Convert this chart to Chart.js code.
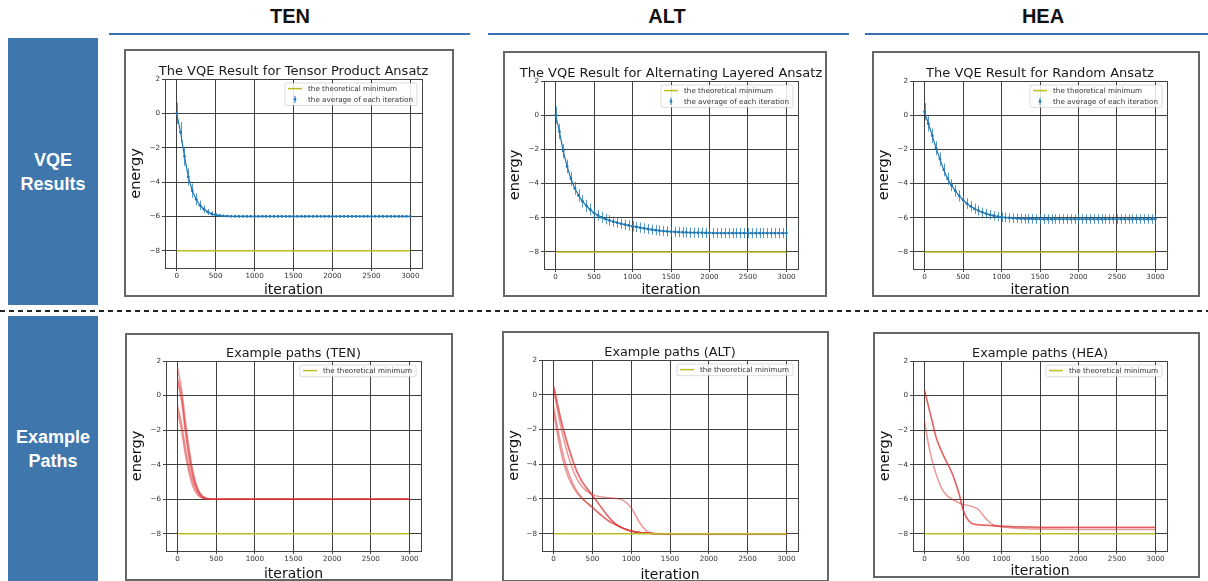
<!DOCTYPE html>
<html>
<head>
<meta charset="utf-8">
<script src="https://cdn.jsdelivr.net/npm/chart.js@4.4.1/dist/chart.umd.min.js"></script>
<style>
  body { margin: 0; background: #fff; width: 1208px; height: 581px; overflow: hidden; position: relative;
         font-family: 'Liberation Sans', Arial, sans-serif; }
  .hdr { position: absolute; top: 5px; width: 200px; text-align: center; font-weight: bold; font-size: 20px; color: #111; }
  .uline { position: absolute; top: 33px; height: 2px; background: #3b6fb6; }
  .side { position: absolute; left: 8px; width: 90px; background: #3f77ac; color: #fff; font-weight: bold;
          font-size: 18px; line-height: 24px; display: flex; align-items: center; justify-content: center; text-align: center; }
  .dash { position: absolute; left: 0; top: 310px; width: 1208px; height: 2px;
          background: repeating-linear-gradient(to right, #222 0 5px, transparent 5px 9px); }
  .frame { position: absolute; border: 2px solid #666; box-sizing: border-box; background: #fff; }
  canvas { display: block; }
</style>
</head>
<body>
<div class="hdr" style="left:190px">TEN</div>
<div class="hdr" style="left:567px">ALT</div>
<div class="hdr" style="left:943px">HEA</div>
<div class="uline" style="left:109px;width:361px"></div>
<div class="uline" style="left:488px;width:361px"></div>
<div class="uline" style="left:865px;width:343px"></div>
<div class="side" style="top:38px;height:267px">VQE<br>Results</div>
<div class="side" style="top:316px;height:265px">Example<br>Paths</div>
<div class="dash"></div>

<script>
// ---- data ----
const xTicks = [0, 500, 1000, 1500, 2000, 2500, 3000];
const yTicks = [-8, -6, -4, -2, 0, 2];
const theoryMin = -8;

// iterations where the averaged energy (with error bar) was plotted
const meanIters = [0, 50, 100, 150, 200, 250, 300, 350, 400, 450, 500, 550, 600, 650, 700, 750, 800, 850, 900, 950,
  1000, 1050, 1100, 1150, 1200, 1250, 1300, 1350, 1400, 1450, 1500, 1550, 1600, 1650, 1700, 1750, 1800, 1850, 1900, 1950,
  2000, 2050, 2100, 2150, 2200, 2250, 2300, 2350, 2400, 2450, 2500, 2550, 2600, 2650, 2700, 2750, 2800, 2850, 2900, 2950, 3000];

const tenMean = [0.00, -1.10, -2.50, -3.70, -4.50, -5.00, -5.35, -5.58, -5.74, -5.85, -5.91, -5.95, -5.97, -5.98, -5.99,
  -6.00, -6.00, -6.00, -6.00, -6.00, -6.00, -6.00, -6.00, -6.00, -6.00, -6.00, -6.00, -6.00, -6.00, -6.00, -6.00,
  -6.00, -6.00, -6.00, -6.00, -6.00, -6.00, -6.00, -6.00, -6.00, -6.00, -6.00, -6.00, -6.00, -6.00, -6.00, -6.00,
  -6.00, -6.00, -6.00, -6.00, -6.00, -6.00, -6.00, -6.00, -6.00, -6.00, -6.00, -6.00, -6.00, -6.00];
const tenErr = [0.62, 0.60, 0.55, 0.50, 0.42, 0.35, 0.28, 0.22, 0.17, 0.13, 0.10, 0.08, 0.06, 0.05, 0.05,
  0.04, 0.04, 0.04, 0.04, 0.04, 0.04, 0.04, 0.04, 0.04, 0.04, 0.04, 0.04, 0.04, 0.04, 0.04, 0.04,
  0.04, 0.04, 0.04, 0.04, 0.04, 0.04, 0.04, 0.04, 0.04, 0.04, 0.04, 0.04, 0.04, 0.04, 0.04, 0.04,
  0.04, 0.04, 0.04, 0.04, 0.04, 0.04, 0.04, 0.04, 0.04, 0.04, 0.04, 0.04, 0.04, 0.04];

const altMean = [0.00, -0.95, -2.10, -3.00, -3.72, -4.28, -4.70, -5.03, -5.30, -5.52, -5.72, -5.86, -5.98, -6.08, -6.16,
  -6.23, -6.29, -6.35, -6.40, -6.45, -6.50, -6.54, -6.58, -6.62, -6.66, -6.70, -6.73, -6.76, -6.78, -6.80, -6.82,
  -6.83, -6.84, -6.85, -6.86, -6.87, -6.87, -6.88, -6.88, -6.89, -6.89, -6.90, -6.90, -6.90, -6.90, -6.90, -6.90,
  -6.90, -6.90, -6.90, -6.90, -6.90, -6.90, -6.90, -6.90, -6.90, -6.90, -6.90, -6.90, -6.90, -6.90];
const altErr = [0.50, 0.45, 0.42, 0.40, 0.40, 0.38, 0.37, 0.36, 0.35, 0.34, 0.33, 0.32, 0.32, 0.31, 0.31,
  0.30, 0.30, 0.30, 0.30, 0.30, 0.30, 0.30, 0.30, 0.30, 0.30, 0.30, 0.30, 0.30, 0.30, 0.30, 0.30,
  0.30, 0.30, 0.30, 0.30, 0.30, 0.30, 0.30, 0.30, 0.30, 0.30, 0.30, 0.30, 0.30, 0.30, 0.30, 0.30,
  0.30, 0.30, 0.30, 0.30, 0.30, 0.30, 0.30, 0.30, 0.30, 0.30, 0.30, 0.30, 0.30, 0.30];

const heaMean = [0.20, -0.50, -1.20, -1.93, -2.57, -3.20, -3.72, -4.10, -4.43, -4.72, -4.96, -5.17, -5.33, -5.48, -5.58,
  -5.68, -5.76, -5.83, -5.88, -5.93, -5.97, -5.99, -6.01, -6.03, -6.04, -6.05, -6.06, -6.07, -6.07, -6.08, -6.08,
  -6.08, -6.08, -6.08, -6.08, -6.08, -6.08, -6.08, -6.08, -6.08, -6.08, -6.08, -6.08, -6.08, -6.08, -6.08, -6.08,
  -6.08, -6.08, -6.08, -6.08, -6.08, -6.08, -6.08, -6.08, -6.08, -6.08, -6.08, -6.08, -6.08, -6.08];
const heaErr = [0.50, 0.45, 0.42, 0.40, 0.40, 0.38, 0.36, 0.35, 0.34, 0.33, 0.32, 0.31, 0.30, 0.30, 0.29,
  0.28, 0.28, 0.28, 0.28, 0.28, 0.28, 0.28, 0.28, 0.28, 0.28, 0.28, 0.28, 0.28, 0.28, 0.28, 0.28,
  0.28, 0.28, 0.28, 0.28, 0.28, 0.28, 0.28, 0.28, 0.28, 0.28, 0.28, 0.28, 0.28, 0.28, 0.28, 0.28,
  0.28, 0.28, 0.28, 0.28, 0.28, 0.28, 0.28, 0.28, 0.28, 0.28, 0.28, 0.28, 0.28, 0.28];

// example optimisation paths
const pathIters = [0, 50, 100, 150, 200, 250, 300, 350, 400, 450, 500, 600, 700, 800, 900, 1000,
  1100, 1200, 1300, 1400, 1500, 2000, 2500, 3000];

const tenPaths = [
  [1.60, 0.40, -1.40, -3.10, -4.40, -5.25, -5.70, -5.90, -5.97, -6.00, -6.00, -6.00, -6.00, -6.00, -6.00, -6.00, -6.00, -6.00, -6.00, -6.00, -6.00, -6.00, -6.00, -6.00],
  [1.00, 0.00, -1.80, -3.40, -4.60, -5.35, -5.75, -5.92, -5.98, -6.00, -6.00, -6.00, -6.00, -6.00, -6.00, -6.00, -6.00, -6.00, -6.00, -6.00, -6.00, -6.00, -6.00, -6.00],
  [0.85, -0.30, -2.10, -3.70, -4.80, -5.45, -5.80, -5.94, -5.99, -6.00, -6.00, -6.00, -6.00, -6.00, -6.00, -6.00, -6.00, -6.00, -6.00, -6.00, -6.00, -6.00, -6.00, -6.00],
  [-0.60, -1.60, -3.00, -4.20, -5.05, -5.55, -5.85, -5.96, -6.00, -6.00, -6.00, -6.00, -6.00, -6.00, -6.00, -6.00, -6.00, -6.00, -6.00, -6.00, -6.00, -6.00, -6.00, -6.00],
  [-0.90, -2.00, -3.40, -4.50, -5.30, -5.70, -5.90, -5.98, -6.00, -6.00, -6.00, -6.00, -6.00, -6.00, -6.00, -6.00, -6.00, -6.00, -6.00, -6.00, -6.00, -6.00, -6.00, -6.00]
];
const altPaths = [
  [0.50, -0.50, -1.50, -2.35, -3.10, -3.80, -4.40, -4.85, -5.20, -5.50, -5.80, -6.40, -7.00, -7.45, -7.70, -7.85, -7.93, -7.97, -8.00, -8.00, -8.00, -8.00, -8.00, -8.00],
  [0.50, -0.60, -1.60, -2.45, -3.20, -3.85, -4.45, -4.90, -5.25, -5.52, -5.80, -6.40, -7.00, -7.45, -7.70, -7.85, -7.93, -7.97, -8.00, -8.00, -8.00, -8.00, -8.00, -8.00],
  [0.30, -0.90, -2.00, -2.90, -3.70, -4.35, -4.85, -5.20, -5.45, -5.62, -5.75, -5.88, -5.93, -5.97, -6.10, -6.50, -7.30, -7.85, -7.98, -8.00, -8.00, -8.00, -8.00, -8.00],
  [-0.70, -1.90, -3.00, -3.90, -4.60, -5.15, -5.55, -5.85, -6.10, -6.30, -6.50, -6.90, -7.25, -7.50, -7.70, -7.85, -7.93, -7.97, -8.00, -8.00, -8.00, -8.00, -8.00, -8.00],
  [-1.00, -2.30, -3.40, -4.25, -4.85, -5.30, -5.65, -5.90, -6.12, -6.30, -6.48, -6.88, -7.23, -7.48, -7.70, -7.85, -7.93, -7.97, -8.00, -8.00, -8.00, -8.00, -8.00, -8.00]
];
const heaPaths = [
  [0.30, -0.60, -1.50, -2.40, -3.00, -3.50, -3.95, -4.40, -5.00, -5.70, -6.60, -7.35, -7.47, -7.50, -7.53, -7.55, -7.57, -7.59, -7.60, -7.61, -7.62, -7.62, -7.62, -7.62],
  [0.30, -0.62, -1.52, -2.42, -3.02, -3.52, -3.97, -4.42, -5.02, -5.72, -6.62, -7.37, -7.49, -7.52, -7.55, -7.57, -7.59, -7.61, -7.62, -7.63, -7.64, -7.64, -7.64, -7.64],
  [-1.50, -2.80, -3.80, -4.55, -5.15, -5.58, -5.82, -5.98, -6.10, -6.22, -6.30, -6.40, -6.60, -7.15, -7.50, -7.60, -7.65, -7.68, -7.70, -7.72, -7.73, -7.75, -7.75, -7.75]
];

const minLabel = 'the theoretical minimum';
const avgLabel = 'the average of each iteration';

// ---- panel layout (outer frame box, plot box, page coords) ----
const panels = [
  { frame: [124, 49, 454, 297], plot: [165, 79, 422, 268], title: 'The VQE Result for Tensor Product Ansatz', mean: tenMean, err: tenErr },
  { frame: [503, 51, 827, 297], plot: [544, 81, 798, 269], title: 'The VQE Result for Alternating Layered Ansatz', mean: altMean, err: altErr },
  { frame: [872, 51, 1200, 297], plot: [913, 81, 1167, 269], title: 'The VQE Result for Random Ansatz', mean: heaMean, err: heaErr },
  { frame: [125, 333, 453, 581], plot: [166, 361, 421, 551], title: 'Example paths (TEN)', paths: tenPaths },
  { frame: [502, 331, 829, 582], plot: [542, 360, 798, 551], title: 'Example paths (ALT)', paths: altPaths },
  { frame: [873, 332, 1200, 578], plot: [913, 361, 1167, 551], title: 'Example paths (HEA)', paths: heaPaths }
];

const BLUE = '#1f77b4';
const OLIVE = '#bcbd22';
const FONT = "'DejaVu Sans', sans-serif";
const BW = 2; // frame border width
Chart.defaults.font.family = FONT;

// error bars, axes box, title above the axes and a matplotlib-like legend
const mplDecor = {
  id: 'mplDecor',
  beforeDatasetsDraw(chart) {
    const { ctx, scales: { x, y } } = chart;
    chart.data.datasets.forEach(ds => {
      if (!ds.errors) return;
      ctx.save();
      ctx.strokeStyle = 'rgba(31,119,180,0.75)';
      ctx.lineWidth = 1;
      ctx.beginPath();
      ds.data.forEach((p, i) => {
        const px = Math.round(x.getPixelForValue(p.x)) + 0.5;
        ctx.moveTo(px, y.getPixelForValue(p.y + ds.errors[i]));
        ctx.lineTo(px, y.getPixelForValue(p.y - ds.errors[i]));
      });
      ctx.stroke();
      ctx.restore();
    });
  },
  afterDraw(chart) {
    const { ctx, chartArea: a } = chart;
    const o = chart.options.plugins.mplDecor;
    ctx.save();
    // axes box
    ctx.strokeStyle = '#444';
    ctx.lineWidth = 1;
    ctx.strokeRect(Math.round(a.left) + 0.5, Math.round(a.top) + 0.5, Math.round(a.right - a.left), Math.round(a.bottom - a.top));
    // title
    ctx.fillStyle = '#1a1a1a';
    ctx.font = o.titleSize + 'px ' + FONT;
    ctx.textAlign = 'center';
    ctx.textBaseline = 'alphabetic';
    ctx.fillText(o.title, (a.left + a.right) / 2, a.top - 4.5);
    // legend
    ctx.font = '7.2px ' + FONT;
    const pad = 3, handle = 14, gap = 6, rowH = 10.7;
    const tw = Math.max(...o.legend.map(it => ctx.measureText(it.label).width));
    const bw = pad + handle + gap + tw + pad + 1;
    const bh = rowH * o.legend.length + 1;
    const bx = a.right - 5 - bw, by = a.top + 4;
    ctx.beginPath();
    ctx.roundRect(bx, by, bw, bh, 2);
    ctx.fillStyle = 'rgba(255,255,255,0.85)';
    ctx.fill();
    ctx.strokeStyle = 'rgba(0,0,0,0.18)';
    ctx.lineWidth = 0.8;
    ctx.stroke();
    ctx.textAlign = 'left';
    ctx.textBaseline = 'middle';
    o.legend.forEach((it, i) => {
      const cy = by + 5.6 + i * rowH;
      const hx = bx + pad;
      ctx.strokeStyle = it.color;
      ctx.fillStyle = it.color;
      if (it.kind === 'err') {
        ctx.lineWidth = 1;
        ctx.beginPath();
        ctx.moveTo(hx + handle / 2, cy - 3.5);
        ctx.lineTo(hx + handle / 2, cy + 3.5);
        ctx.stroke();
        ctx.beginPath();
        ctx.arc(hx + handle / 2, cy, 1.3, 0, Math.PI * 2);
        ctx.fill();
      } else {
        ctx.lineWidth = 1.5;
        ctx.beginPath();
        ctx.moveTo(hx, cy);
        ctx.lineTo(hx + handle, cy);
        ctx.stroke();
      }
      ctx.fillStyle = '#333';
      ctx.fillText(it.label, hx + handle + gap, cy + 0.5);
    });
    ctx.restore();
  }
};

const fmtTick = v => String(v).replace('-', '\u2212');

panels.forEach(p => {
  const [fx0, fy0, fx1, fy1] = p.frame;
  const [px0, py0, px1, py1] = p.plot;
  const div = document.createElement('div');
  div.className = 'frame';
  div.style.left = fx0 + 'px';
  div.style.top = fy0 + 'px';
  div.style.width = (fx1 - fx0) + 'px';
  div.style.height = (fy1 - fy0) + 'px';
  const cv = document.createElement('canvas');
  const cw = fx1 - fx0 - 2 * BW, ch = fy1 - fy0 - 2 * BW;
  cv.width = cw; cv.height = ch;
  cv.style.width = cw + 'px'; cv.style.height = ch + 'px';
  div.appendChild(cv);
  document.body.appendChild(div);

  // margins of the plot box inside the canvas
  const cx0 = fx0 + BW, cy0 = fy0 + BW;
  const mL = px0 - cx0, mT = py0 - cy0, mR = (cx0 + cw) - px1, mB = (cy0 + ch) - py1;

  const datasets = [{
    label: minLabel,
    data: [{ x: xTicks[0], y: theoryMin }, { x: xTicks[xTicks.length - 1], y: theoryMin }],
    borderColor: OLIVE, borderWidth: 1.5, pointRadius: 0
  }];
  let legend = [{ label: minLabel, kind: 'line', color: OLIVE }];
  if (p.mean) {
    datasets.push({
      label: avgLabel,
      data: meanIters.map((t, i) => ({ x: t, y: p.mean[i] })),
      errors: p.err,
      borderColor: BLUE, borderWidth: 1.2, pointRadius: 1.4, pointBorderWidth: 0,
      pointBackgroundColor: BLUE, tension: 0
    });
    legend.push({ label: avgLabel, kind: 'err', color: BLUE });
  } else {
    p.paths.forEach(path => datasets.push({
      data: pathIters.map((t, i) => ({ x: t, y: path[i] })),
      borderColor: 'rgba(220,45,45,0.5)', borderWidth: 1.5, pointRadius: 0,
      cubicInterpolationMode: 'monotone'
    }));
  }

  new Chart(cv, {
    type: 'line',
    data: { datasets },
    plugins: [mplDecor],
    options: {
      responsive: false,
      animation: false,
      events: [],
      layout: { padding: { left: 0, top: mT, right: mR, bottom: 0 } },
      plugins: {
        legend: { display: false },
        tooltip: { enabled: false },
        mplDecor: { title: p.title, titleSize: p.mean ? 13 : 12.8, legend }
      },
      scales: {
        x: {
          type: 'linear', min: -150, max: 3150,
          afterBuildTicks: s => { s.ticks = xTicks.map(v => ({ value: v })); },
          afterFit: s => { s.height = mB; },
          ticks: { font: { size: 7.2 }, color: '#333', padding: 1, maxRotation: 0, autoSkip: false, callback: fmtTick },
          grid: { color: 'rgba(0,0,0,0.75)', lineWidth: 1, tickLength: 3, tickColor: '#444' },
          border: { display: false },
          title: { display: true, text: 'iteration', color: '#111', font: { size: 14, lineHeight: 0.72 }, padding: 0 }
        },
        y: {
          type: 'linear', min: -9, max: 2,
          afterBuildTicks: s => { s.ticks = yTicks.map(v => ({ value: v })); },
          afterFit: s => { s.width = mL; },
          ticks: { font: { size: 7.2 }, color: '#333', padding: 2, autoSkip: false, callback: fmtTick },
          grid: { color: 'rgba(0,0,0,0.75)', lineWidth: 1, tickLength: 3, tickColor: '#444' },
          border: { display: false },
          title: { display: true, text: 'energy', color: '#111', font: { size: 14.5 }, padding: { top: 2, bottom: 0 } }
        }
      }
    }
  });
});
</script>
</body>
</html>
